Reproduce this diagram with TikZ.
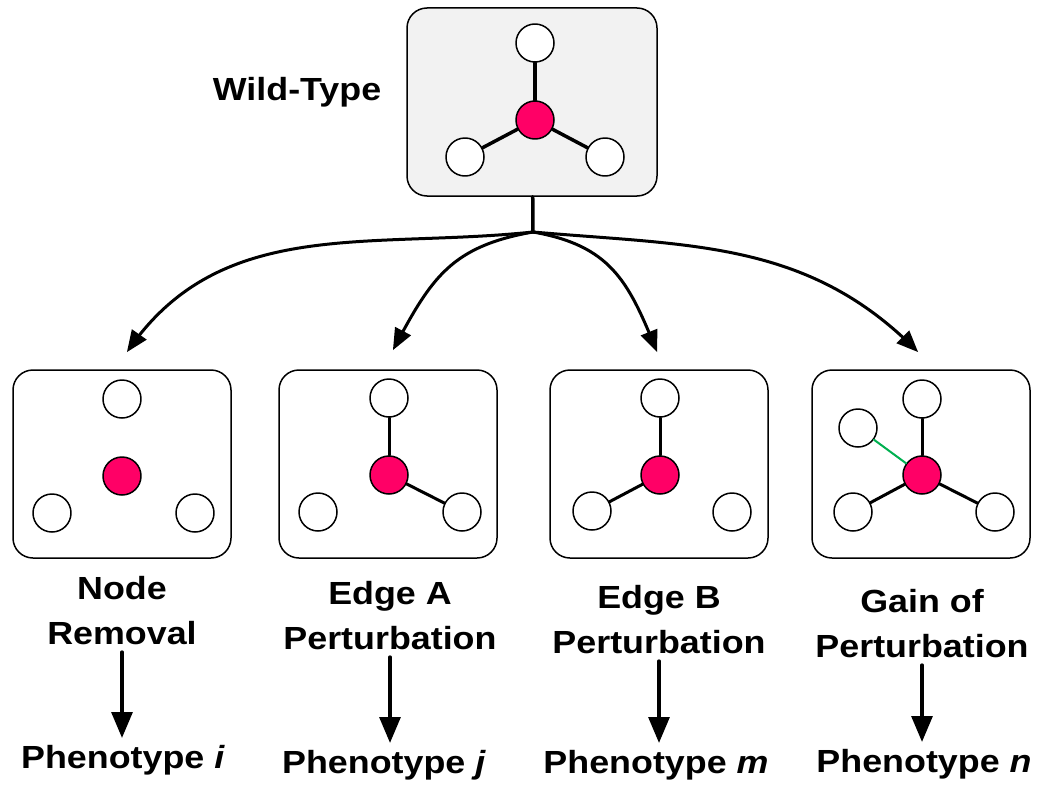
\documentclass[tikz,border=0pt]{standalone}
\usepackage{fontspec}
\setmainfont{Liberation Sans}[FakeStretch=1.12]
\usepackage{tikz}
\usetikzlibrary{arrows}
\definecolor{hubred}{RGB}{255,0,102}
\definecolor{gaingreen}{RGB}{0,176,80}
\definecolor{panelgray}{RGB}{242,242,242}

\begin{document}
\begin{tikzpicture}[line cap=round,line join=round,>=triangle 45,x=0.5pt,y=0.5pt,
  panel/.style={draw,line width=0.75pt,rounded corners=10pt,minimum width=109pt,minimum height=94pt},
  leaf/.style={circle,draw,line width=0.75pt,fill=white,minimum size=19pt,inner sep=0pt},
  hub/.style={leaf,fill=hubred},
  link/.style={line width=1.5pt},
  lbl/.style={font=\fontsize{16}{22.5}\selectfont\bfseries,align=center}]
\useasboundingbox (0,0) rectangle (1043,784);
% wild type
\node[panel,fill=panelgray,minimum width=125pt] (wt) at (532,682) {};
\node[leaf] (wt0) at (535,741) {};
\node[hub] (wtc) at (535,664) {};
\node[leaf] (wt1) at (465,627) {};
\node[leaf] (wt2) at (605,627) {};
\draw[line width=1.75pt] (wtc) -- (wt0);
\draw[line width=1.75pt] (wtc) -- (wt1);
\draw[line width=1.75pt] (wtc) -- (wt2);
\node[lbl,anchor=base] (wtlbl) at (297,683) {Wild-Type};
\coordinate (split) at (533,552);
\draw[line width=1.75pt] (wt) -- (split);
% arrow ends
\coordinate (tip1) at (127,432);
\coordinate (tip2) at (393,434);
\coordinate (tip3) at (657,432);
\coordinate (tip4) at (918,432);
\draw[->,link] (split) to[out=186,in=55] (tip1);
\draw[->,link] (split) to[out=190,in=62,looseness=1.15] (tip2);
\draw[->,link] (split) to[out=-10,in=112,looseness=1.15] (tip3);
\draw[->,link] (split) to[out=-5,in=135] (tip4);
% node removal
\node[panel] (p1) at (122,320) {};
\node[leaf] (p1t) at (122,385) {};
\node[hub] (p1c) at (122,308) {};
\node[leaf] (p1l) at (52,271) {};
\node[leaf] (p1r) at (195,271) {};
% edge A
\node[panel] (p2) at (388,320) {};
\node[leaf] (p2t) at (389,386) {};
\node[hub] (p2c) at (389,309) {};
\node[leaf] (p2l) at (318,272) {};
\node[leaf] (p2r) at (462,272) {};
\draw[link] (p2c) -- (p2t);
\draw[link] (p2c) -- (p2r);
% edge B
\node[panel] (p3) at (659,320) {};
\node[leaf] (p3t) at (660,386) {};
\node[hub] (p3c) at (660,309) {};
\node[leaf] (p3l) at (592,273) {};
\node[leaf] (p3r) at (732,272) {};
\draw[link] (p3c) -- (p3t);
\draw[link] (p3c) -- (p3l);
% gain
\node[panel] (p4) at (921,320) {};
\node[leaf] (p4t) at (922,385) {};
\node[hub] (p4c) at (922,309) {};
\node[leaf] (p4l) at (853,272) {};
\node[leaf] (p4r) at (995,272) {};
\node[leaf] (p4x) at (858,356) {};
\draw[link] (p4c) -- (p4t);
\draw[link] (p4c) -- (p4l);
\draw[link] (p4c) -- (p4r);
\draw[line width=1pt,gaingreen] (p4c) -- (p4x);
% labels
\node[lbl] (lbl1) at (122,173) {Node\\Removal};
\node[lbl] (lbl2) at (390,168) {Edge A\\Perturbation};
\node[lbl] (lbl3) at (659,164) {Edge B\\Perturbation};
\node[lbl] (lbl4) at (922,160) {Gain of\\Perturbation};
\node[lbl,anchor=base] (ph1) at (123,16) {Phenotype \textit{i}};
\node[lbl,anchor=base] (ph2) at (384,11) {Phenotype \textit{j}};
\node[lbl,anchor=base] (ph3) at (656,11) {Phenotype \textit{m}};
\node[lbl,anchor=base] (ph4) at (924,12) {Phenotype \textit{n}};
\draw[->,line width=2pt] (lbl1.south) -- (lbl1.south |- ph1.north);
\draw[->,line width=2pt] (lbl2.south) -- (lbl2.south |- ph2.north);
\draw[->,line width=2pt] (lbl3.south) -- (lbl3.south |- ph3.north);
\draw[->,line width=2pt] (lbl4.south) -- (lbl4.south |- ph4.north);
\end{tikzpicture}
\end{document}
